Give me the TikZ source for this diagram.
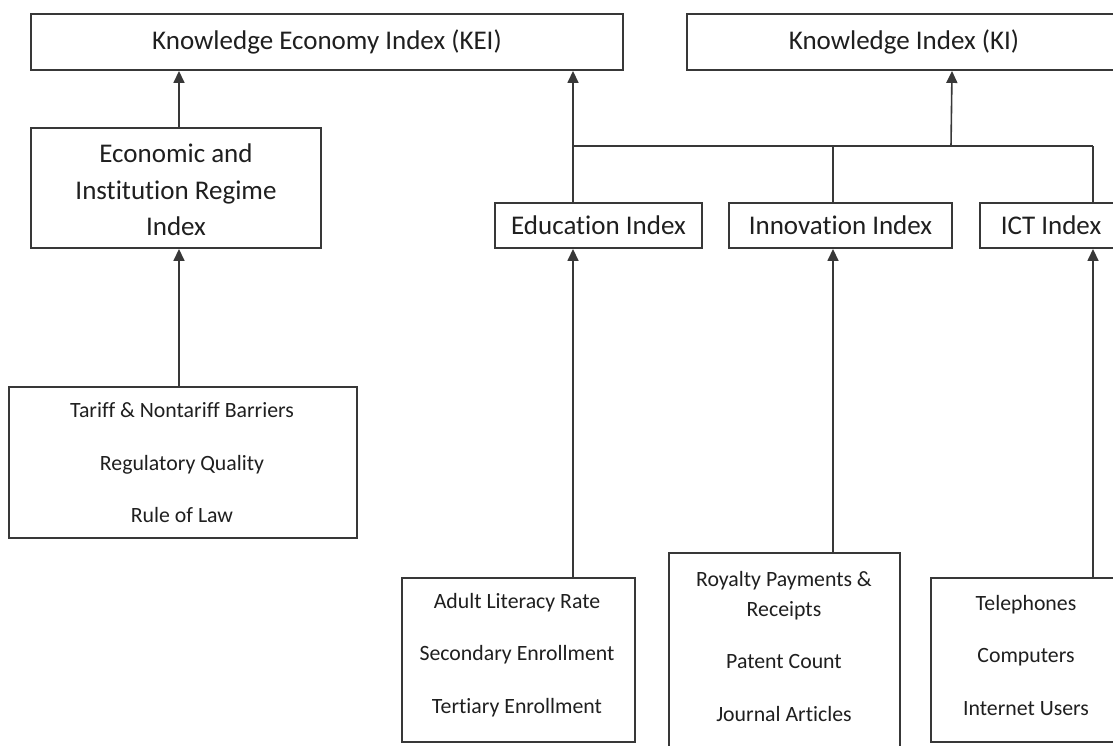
\documentclass[tikz,border=0pt]{standalone}
\usepackage{fontspec}
\setmainfont{Carlito}[Ligatures=NoCommon]
\usetikzlibrary{arrows.meta}
\definecolor{linecol}{gray}{0.22}
\definecolor{txtcol}{gray}{0.12}
\tikzset{
  box/.style={draw=linecol, line width=1.9pt, fill=white, inner sep=0pt, text=txtcol, font=\fontsize{27}{36.5}\selectfont, align=center},
  listtext/.style={text=txtcol, inner sep=0pt, align=center, font=\fontsize{21.8}{52.5}\selectfont},
  arr/.style={draw=linecol, line width=1.6pt, -{Triangle[length=12pt,width=11pt]}},
  conn/.style={draw=linecol, line width=1.6pt}
}
\begin{document}
\begin{tikzpicture}[x=1pt,y=-1pt]
\clip (0,0) rectangle (1113,745);
\path[use as bounding box] (0,0) rectangle (1113,745);
% boxes
\node[box, minimum width=592, minimum height=56] (kei) at (327,42) {Knowledge Economy Index (KEI)};
\node[box, minimum width=434, minimum height=56] (ki) at (904,42) {Knowledge Index (KI)};
\node[box, minimum width=290, minimum height=120] (econ) at (176,188) {};
\node[box, minimum width=207, minimum height=45] (edu) at (598.5,225.5) {Education Index};
\node[box, minimum width=223, minimum height=45] (inno) at (840.5,225.5) {Innovation Index};
\node[box, minimum width=142, minimum height=45] (ict) at (1051,225.5) {ICT Index};
\node[box, minimum width=348, minimum height=151] (tariff) at (183,462.5) {};
\node[box, minimum width=233, minimum height=164] (adult) at (518.5,660) {};
\node[box, minimum width=231, minimum height=207] (roy) at (784.5,656.5) {};
\node[box, minimum width=190, minimum height=164] (tel) at (1026,660) {};
% texts
\node[box, draw=none, fill=none] (econtxt) at (176,190) {Economic and\\Institution Regime\\Index};
\node[listtext] (tarifftxt) at (182,463) {Tariff \& Nontariff Barriers\\Regulatory Quality\\Rule of Law};
\node[listtext] (adulttxt) at (517,655) {Adult Literacy Rate\\Secondary Enrollment\\Tertiary Enrollment};
\node[listtext, font=\fontsize{21.8}{30}\selectfont] (roytxt) at (784,646) {Royalty Payments \&\\Receipts\\[22.5pt]Patent Count\\[22.5pt]Journal Articles};
\node[listtext] (teltxt) at (1026,655) {Telephones\\Computers\\Internet Users};
% junction coordinates
\coordinate (c1) at (179,0);
\coordinate (c2) at (573,146);
\coordinate (c3) at (833,146);
\coordinate (c4) at (1093,146);
\coordinate (c5) at (951,146);
% connectors
\draw[arr] (c1 |- econ.north) -- (c1 |- kei.south);
\draw[arr] (c1 |- tariff.north) -- (c1 |- econ.south);
\draw[conn] (c2 |- edu.north) -- (c2);
\draw[arr] (c2) -- (c2 |- kei.south);
\draw[conn] (c2) -- (c4);
\draw[conn] (c3 |- inno.north) -- (c3);
\draw[conn] (c4 |- ict.north) -- (c4);
\draw[arr] (c5) -- ([xshift=1pt]c5 |- ki.south);
\draw[arr] (c2 |- adult.north) -- (c2 |- edu.south);
\draw[arr] (c3 |- roy.north) -- (c3 |- inno.south);
\draw[arr] (c4 |- tel.north) -- (c4 |- ict.south);
\end{tikzpicture}
\end{document}
